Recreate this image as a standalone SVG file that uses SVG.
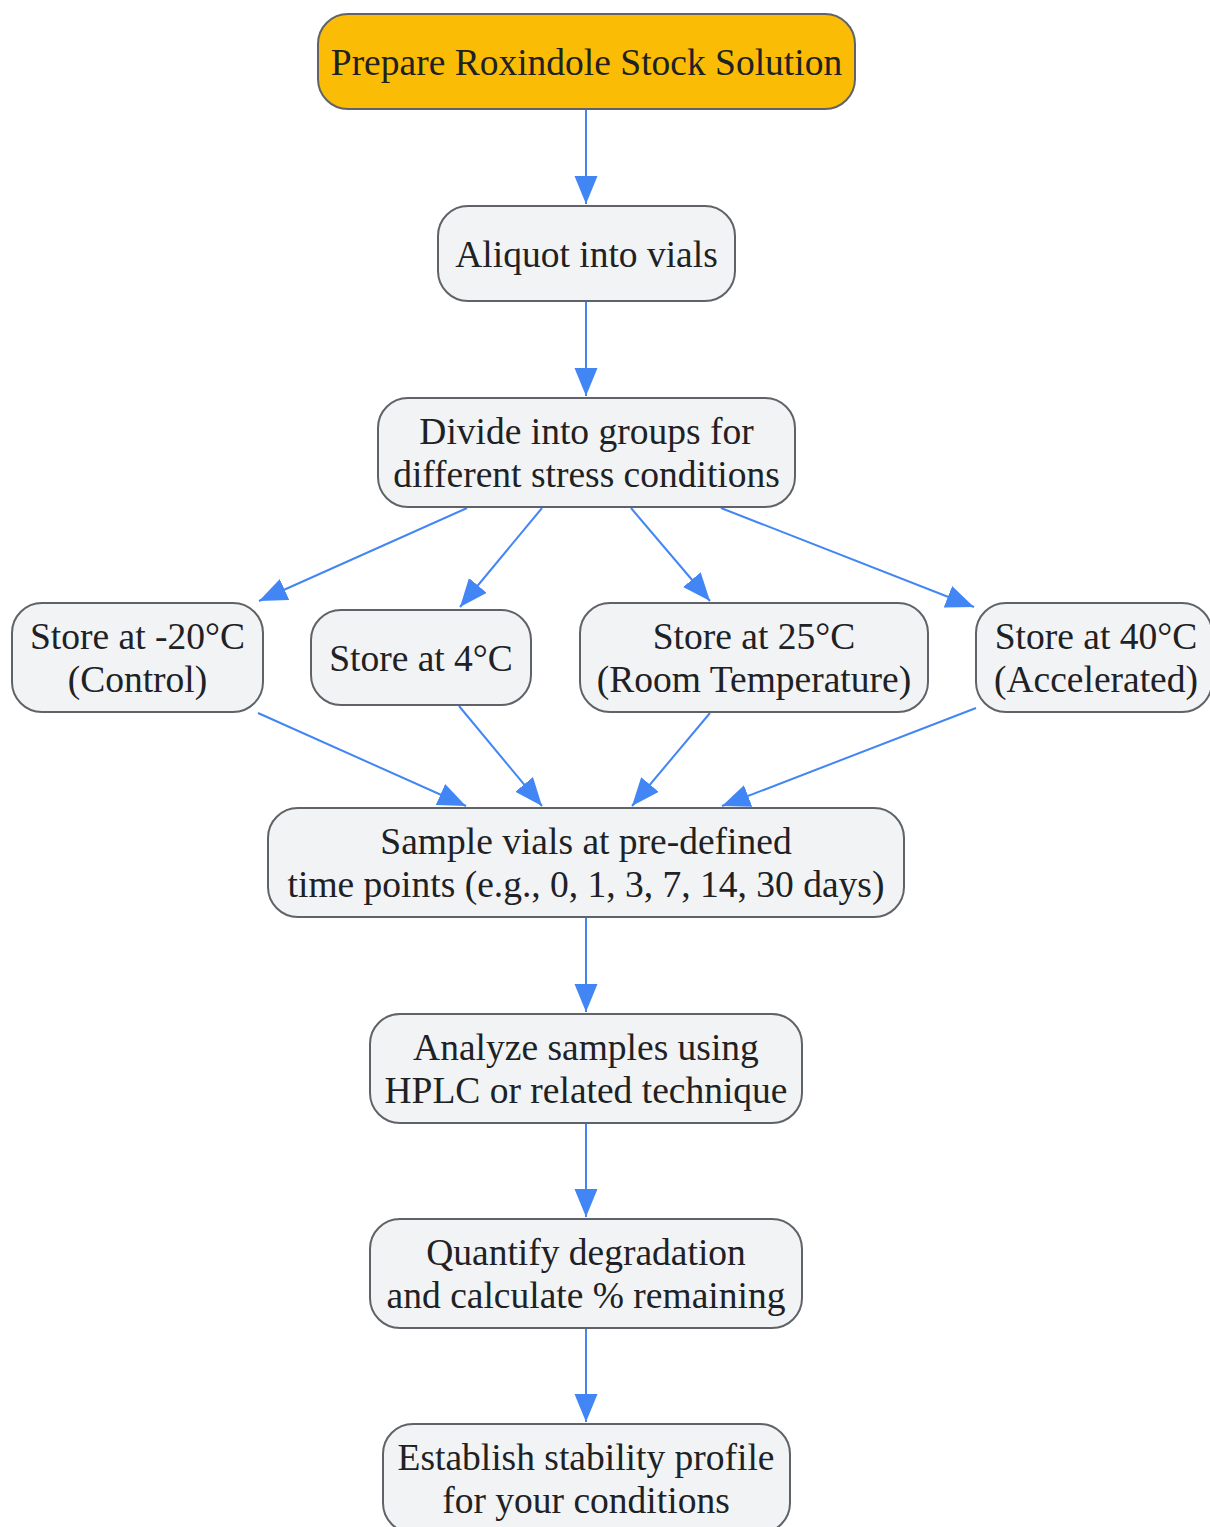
<svg xmlns="http://www.w3.org/2000/svg" width="1210" height="1527" viewBox="0 0 1210 1527">
<defs>
<marker id="arr" markerUnits="userSpaceOnUse" markerWidth="30" markerHeight="24" refX="28" refY="11.5" orient="auto">
<path d="M0,0 L28,11.5 L0,23 Z" fill="#4285F4"/>
</marker>
<style>
.n rect{fill:#F1F3F4;stroke:#5F6368;stroke-width:2}
.n.s rect{fill:#FBBC05}
.n text{font-family:"Liberation Serif","Times New Roman",serif;font-size:37.5px;fill:#202124;text-anchor:middle}
.e line{stroke:#4285F4;stroke-width:2;marker-end:url(#arr)}
</style>
</defs>
<rect width="1210" height="1527" fill="#FFFFFF"/>
<g class="e" id="edges">
<line x1="586" y1="109" x2="586" y2="204"/>
<line x1="586" y1="301" x2="586" y2="396"/>
<line x1="467" y1="508" x2="259" y2="601"/>
<line x1="542" y1="508" x2="460" y2="607"/>
<line x1="631" y1="508" x2="710" y2="601"/>
<line x1="721" y1="508" x2="974" y2="607"/>
<line x1="258" y1="713" x2="466" y2="806"/>
<line x1="459" y1="706" x2="542" y2="806"/>
<line x1="710" y1="713" x2="632" y2="806"/>
<line x1="976" y1="708" x2="722" y2="806"/>
<line x1="586" y1="917" x2="586" y2="1012"/>
<line x1="586" y1="1123" x2="586" y2="1217"/>
<line x1="586" y1="1328" x2="586" y2="1422"/>
</g>
<g class="n s" id="n1"><rect x="318" y="14" width="537" height="95" rx="30"/><text x="586.5" y="75">Prepare Roxindole Stock Solution</text></g>
<g class="n" id="n2"><rect x="438" y="206" width="297" height="95" rx="30"/><text x="586.5" y="267">Aliquot into vials</text></g>
<g class="n" id="n3"><rect x="378" y="398" width="417" height="109" rx="30"/><text x="586.5" y="444">Divide into groups for</text><text x="586.5" y="487">different stress conditions</text></g>
<g class="n" id="n4"><rect x="12" y="603" width="251" height="109" rx="30"/><text x="137.5" y="649">Store at -20°C</text><text x="137.5" y="692">(Control)</text></g>
<g class="n" id="n5"><rect x="311" y="610" width="220" height="95" rx="30"/><text x="421" y="671">Store at 4°C</text></g>
<g class="n" id="n6"><rect x="580" y="603" width="348" height="109" rx="30"/><text x="754" y="649">Store at 25°C</text><text x="754" y="692">(Room Temperature)</text></g>
<g class="n" id="n7"><rect x="976" y="603" width="236" height="109" rx="30"/><text x="1096" y="649">Store at 40°C</text><text x="1096" y="692">(Accelerated)</text></g>
<g class="n" id="n8"><rect x="268" y="808" width="636" height="109" rx="30"/><text x="586" y="854">Sample vials at pre-defined</text><text x="586" y="897">time points (e.g., 0, 1, 3, 7, 14, 30 days)</text></g>
<g class="n" id="n9"><rect x="370" y="1014" width="432" height="109" rx="30"/><text x="586" y="1060">Analyze samples using</text><text x="586" y="1103">HPLC or related technique</text></g>
<g class="n" id="n10"><rect x="370" y="1219" width="432" height="109" rx="30"/><text x="586" y="1265">Quantify degradation</text><text x="586" y="1308">and calculate % remaining</text></g>
<g class="n" id="n11"><rect x="383" y="1424" width="407" height="109" rx="30"/><text x="586" y="1470">Establish stability profile</text><text x="586" y="1513">for your conditions</text></g>
</svg>
